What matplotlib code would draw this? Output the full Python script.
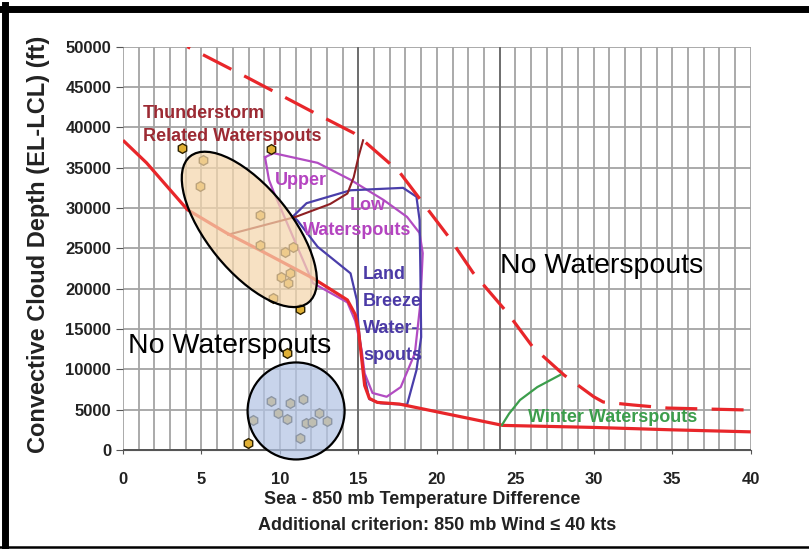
import matplotlib

matplotlib.use("Agg")
import matplotlib.pyplot as plt
from matplotlib.lines import Line2D
from matplotlib.patches import Circle, Ellipse
from matplotlib.transforms import Affine2D, ScaledTranslation

plt.rcParams["font.family"] = ["Liberation Sans", "DejaVu Sans"]

# 下边界（红色实线）
lower_x = [0, 1.5, 4.1, 6.6, 8.7, 12.1, 14.3, 14.8, 15.0, 15.2, 15.4, 15.7, 16.2, 17.6, 24.2, 30, 35, 40]
lower_y = [38400, 35600, 29800, 26900, 24800, 21300, 18600, 16800, 14900, 11500, 8000, 6400, 5900, 5700,
           3050, 2800, 2500, 2250]

# 上边界（红色虚线）
upper_x = [4.1, 8, 12, 14.7, 15.3, 17.6, 19.2, 20.8, 22.3, 24.5, 26.1, 28.1, 30.0, 30.6, 32.5, 34.7, 40]
upper_y = [50000, 46100, 42000, 39300, 38400, 34500, 30400, 26300, 22000, 17000, 12800, 9300, 6600, 5950,
           5580, 5200, 4950]

# 雷暴相关水龙卷（棕色线）
storm_x = [6.7, 11.0, 13.2, 14.3, 14.7, 15.0, 15.3]
storm_y = [26700, 28900, 30500, 31800, 33800, 36300, 38400]

# 高低层水龙卷（紫色闭合曲线）
upper_low_x = [9.05, 9.6, 12.4, 14.5, 16.6, 18.1, 18.9, 19.1, 19.05, 18.95, 18.6, 17.7, 16.8, 15.9, 15.4,
               15.2, 14.8, 14.3, 12.1, 9.6, 9.3, 9.05]
upper_low_y = [36300, 36800, 35600, 33500, 31000, 28900, 26900, 24400, 22300, 18200, 12000, 7800, 6600,
               7070, 9500, 12500, 16000, 18300, 20700, 32000, 33500, 36300]

# 陆风水龙卷（蓝色闭合曲线）
land_x = [10.8, 11.7, 14.5, 17.85, 18.7, 18.9, 18.95, 19.0, 18.7, 18.1, 16.4, 15.7, 15.3, 15.0, 14.9,
          14.5, 12.4, 11.1, 10.8]
land_y = [28900, 30600, 32200, 32500, 31400, 28500, 22300, 14000, 9900, 5600, 5800, 6300, 9900, 15500,
          18600, 21900, 25200, 28500, 28900]

# 冬季水龙卷（绿色线）
winter_x = [24.15, 24.6, 25.3, 26.4, 27.85]
winter_y = [3100, 4500, 6200, 7800, 9300]

# 观测个例
case_x = [3.74, 9.43, 5.12, 4.9, 8.73, 8.73, 10.35, 10.85, 10.05, 10.65, 10.5, 9.58, 11.28, 10.43, 7.99,
          8.3, 9.41, 9.9, 10.47, 10.64, 11.45, 11.28, 11.66, 12.03, 12.51, 12.98]
case_y = [37400, 37300, 35960, 32740, 29140, 25420, 24600, 25130, 21490, 22000, 20700, 18840, 17450, 12000,
          830, 3720, 6110, 4550, 3800, 5790, 6290, 1450, 3300, 3510, 4620, 3630]

x_ticks = list(range(0, 41, 5))
y_ticks = list(range(0, 50001, 5000))
grid_x = list(range(0, 41))
dark_grid_x = [15, 24]

fig = plt.figure(figsize=(8.09, 5.49), dpi=100)
ax = fig.add_axes([123 / 809, 1 - 450 / 549, (750.7 - 123) / 809, (450 - 46.7) / 549])
ax.set_xlim(0, 40)
ax.set_ylim(0, 50000)

# 网格
for gx in grid_x:
    ax.axvline(gx, color="#a4a4a4", lw=1.3, zorder=0)
for gx in dark_grid_x:
    ax.axvline(gx, color="#6a6a6a", lw=1.3, zorder=0.5)
for gy in y_ticks:
    ax.axhline(gy, color="#a4a4a4", lw=1.3, zorder=0)
ax.axhline(0, color="#555555", lw=1.4, zorder=0.5)

for side in ["top", "right", "left"]:
    ax.spines[side].set_visible(False)
ax.spines["bottom"].set_color("#555555")

ax.set_xticks(x_ticks)
ax.set_yticks(y_ticks)
ax.tick_params(axis="x", length=3, pad=13, color="#555555", labelsize=12)
ax.tick_params(axis="y", length=5, pad=3.5, color="#555555", labelsize=12)
for lab in ax.get_xticklabels() + ax.get_yticklabels():
    lab.set_fontweight("bold")
    lab.set_color("#222222")

# 曲线
ax.plot(upper_low_x, upper_low_y, color="#b24cc2", lw=1.6, zorder=2)
ax.plot(land_x, land_y, color="#4a3eaa", lw=1.6, zorder=2)
ax.plot(storm_x, storm_y, color="#8e1f22", lw=1.5, zorder=2.5)
ax.plot(lower_x, lower_y, color="#e8262a", lw=2.3, zorder=3, solid_capstyle="butt")
ax.plot(upper_x, upper_y, color="#e8262a", lw=2.3, zorder=3, linestyle=(9, (10, 4.5)))
ax.plot(winter_x, winter_y, color="#3c9e4c", lw=1.6, zorder=3)

ax.plot(case_x, case_y, linestyle="none", marker="h", markersize=7,
        markerfacecolor="#e0b035", markeredgecolor="#2e2200", markeredgewidth=1.0, zorder=4)

# 椭圆与圆（屏幕像素单位，中心在数据坐标）
ell = Ellipse((0, 0), 2 * 94, 2 * 42, angle=-51,
              facecolor=(0.955, 0.84, 0.68, 0.72), edgecolor="black", lw=1.6, zorder=5,
              transform=Affine2D() + ScaledTranslation(8.05, 27350, ax.transData))
ax.add_patch(ell)
circ = Circle((0, 0), 48.5, facecolor=(0.70, 0.77, 0.895, 0.72), edgecolor="black", lw=1.6, zorder=5,
              transform=Affine2D() + ScaledTranslation(11.03, 4840, ax.transData))
ax.add_patch(circ)
circ.set_clip_on(False)

# 文字标注
red_txt = "#9c2a33"
ax.text(1.27, 41170, "Thunderstorm", color=red_txt, fontsize=13, fontweight="bold", va="baseline", zorder=6)
ax.text(1.27, 38320, "Related Waterspouts", color=red_txt, fontsize=13, fontweight="bold",
        va="baseline", zorder=6)
pur = "#b444c0"
ax.text(9.69, 32860, "Upper", color=pur, fontsize=13, fontweight="bold", va="baseline", zorder=6)
ax.text(14.47, 29760, "Low", color=pur, fontsize=13, fontweight="bold", va="baseline", zorder=6)
ax.text(11.47, 26660, "Waterspouts", color=pur, fontsize=13, fontweight="bold", va="baseline", zorder=6)
blu = "#4b3aa6"
for txt, yy in zip(["Land", "Breeze", "Water-", "spouts"], [21200, 17860, 14510, 11160]):
    ax.text(15.3, yy, txt, color=blu, fontsize=13, fontweight="bold", va="baseline", zorder=6)
ax.text(0.32, 12030, "No Waterspouts", color="black", fontsize=20.5, va="baseline", zorder=3.5)
ax.text(24.03, 21950, "No Waterspouts", color="black", fontsize=20.5, va="baseline", zorder=6)
ax.text(25.8, 3470, "Winter Waterspouts", color="#3c9e4c", fontsize=13, fontweight="bold",
        va="baseline", zorder=6)

# 坐标轴标题
fig.text(39 / 809, 1 - 244.5 / 549, "Convective Cloud Depth (EL-LCL) (ft)", rotation=90,
         ha="center", va="center", fontsize=17, fontweight="bold", color="#222222")
fig.text(422 / 809, 1 - 499 / 549, "Sea - 850 mb Temperature Difference", ha="center", va="center",
         fontsize=13, fontweight="bold", color="#222222")
fig.text(437 / 809, 1 - 526 / 549, "Additional criterion: 850 mb Wind \u2264 40 kts", ha="center",
         va="center", fontsize=13, fontweight="bold", color="#222222")

# 外框
fig.add_artist(Line2D([0, 1], [1 - 8.5 / 549, 1 - 8.5 / 549], transform=fig.transFigure,
                      color="black", lw=5))
fig.add_artist(Line2D([4.5 / 809, 4.5 / 809], [0, 1 - 5 / 549], transform=fig.transFigure,
                      color="black", lw=5))
fig.add_artist(Line2D([0, 1], [2.5 / 549, 2.5 / 549], transform=fig.transFigure,
                      color="black", lw=1.8))

fig.savefig("out.png", dpi=100)
